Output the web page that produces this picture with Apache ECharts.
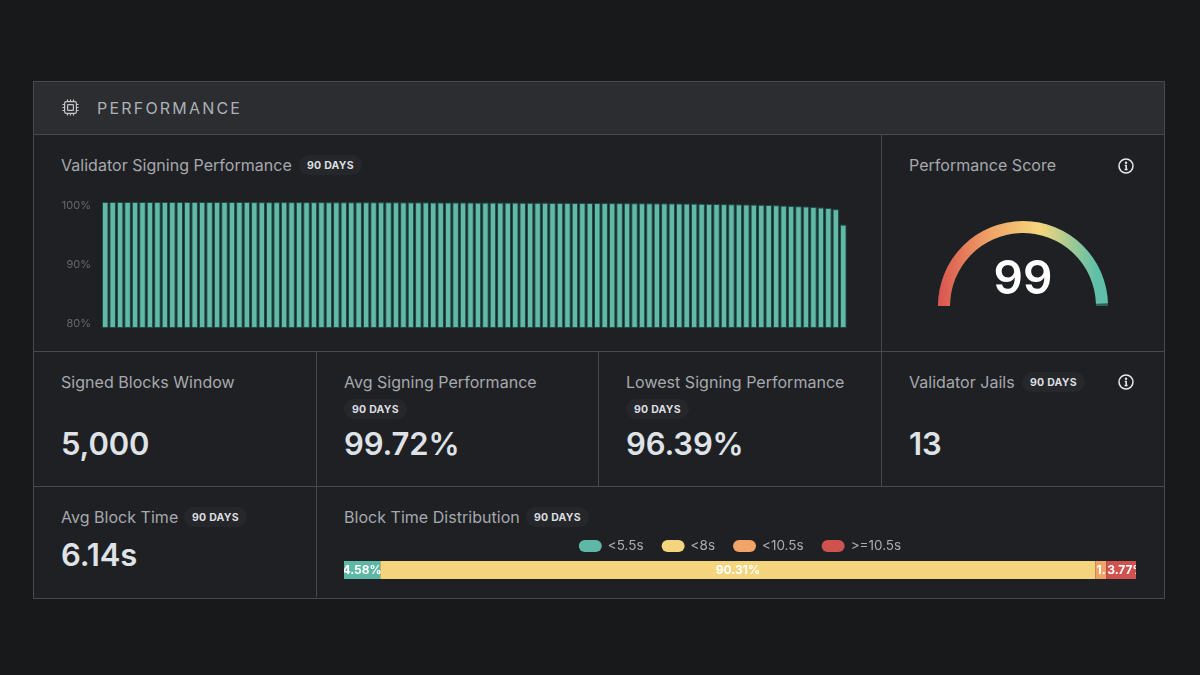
<!DOCTYPE html>
<html>
<head>
<meta charset="utf-8">
<script src="https://cdn.jsdelivr.net/npm/echarts@6/dist/echarts.min.js"></script>
<style>
html,body{margin:0;padding:0;background:#17191b;width:1200px;height:675px;overflow:hidden}
body{font-family:Inter,"Noto Sans",sans-serif;position:relative}
.abs{position:absolute}
#card{left:33px;top:81px;width:1130px;height:516px;background:#1f2024;border:1px solid #46494d}
#head{left:34px;top:82px;width:1130px;height:52px;background:#2b2d31}
.h{background:#46494d;height:1px}
.v{background:#46494d;width:1px}
.t{position:absolute;font-size:16px;line-height:20px;color:#a6a9ad;white-space:nowrap;letter-spacing:.03px}
.p{position:absolute;font-size:10.5px;font-weight:700;line-height:21px;height:20px;padding:0 8px;border-radius:10px;background:#25272b;color:#dcdee0;letter-spacing:.25px;white-space:nowrap}
.n{position:absolute;font-size:31px;line-height:40px;font-weight:600;color:#dfe3e8;white-space:nowrap;letter-spacing:-.15px}
#main{left:0;top:0;width:1200px;height:675px}
#dist{left:344px;top:532px;width:792px;height:48px;overflow:hidden}
svg{position:absolute}
</style>
</head>
<body>
<div class="abs" id="card"></div>
<div class="abs" id="head"></div>
<div class="abs h" style="left:34px;top:134px;width:1130px"></div>
<div class="abs h" style="left:34px;top:351px;width:1130px"></div>
<div class="abs h" style="left:34px;top:486px;width:1130px"></div>
<div class="abs v" style="left:881px;top:135px;height:351px"></div>
<div class="abs v" style="left:316px;top:352px;height:245px"></div>
<div class="abs v" style="left:598px;top:352px;height:134px"></div>

<svg style="left:62px;top:99px" width="17" height="17" viewBox="0 0 17 17" fill="none" stroke="#c3c6ca" stroke-width="1.2">
  <rect x="2.6" y="2.6" width="11.8" height="11.8" rx="1.6"/><rect x="5.6" y="5.6" width="5.8" height="5.8" rx=".6"/>
  <path d="M5.5 .5v2M8.5 .5v2M11.5 .5v2M5.5 14.5v2M8.5 14.5v2M11.5 14.5v2M.5 5.5h2M.5 8.5h2M.5 11.5h2M14.5 5.5h2M14.5 8.5h2M14.5 11.5h2"/>
</svg>
<div class="t" style="left:97px;top:98px;letter-spacing:2.2px;color:#adb1b5">PERFORMANCE</div>

<div class="t" style="left:61px;top:155px">Validator Signing Performance</div>
<div class="p" style="left:299px;top:155px">90 DAYS</div>
<div class="t" style="left:909px;top:155px">Performance Score</div>
<svg style="left:1118px;top:158px" width="16" height="16" viewBox="0 0 16 16" fill="none" stroke="#e8eaec" stroke-width="1.5"><circle cx="8" cy="8" r="7"/><path d="M6.8 7.4H8.2V11.6M6.6 11.6H9.6"/><circle cx="8" cy="4.8" r=".5" fill="#e8eaec"/></svg>

<div class="t" style="left:61px;top:372px">Signed Blocks Window</div>
<div class="n" style="left:61px;top:424px">5,000</div>

<div class="t" style="left:344px;top:372px">Avg Signing Performance</div>
<div class="p" style="left:344px;top:399px">90 DAYS</div>
<div class="n" style="left:344px;top:424px">99.72%</div>

<div class="t" style="left:626px;top:372px">Lowest Signing Performance</div>
<div class="p" style="left:626px;top:399px">90 DAYS</div>
<div class="n" style="left:626px;top:424px">96.39%</div>

<div class="t" style="left:909px;top:372px">Validator Jails</div>
<div class="p" style="left:1022px;top:372px">90 DAYS</div>
<svg style="left:1118px;top:374px" width="16" height="16" viewBox="0 0 16 16" fill="none" stroke="#e8eaec" stroke-width="1.5"><circle cx="8" cy="8" r="7"/><path d="M6.8 7.4H8.2V11.6M6.6 11.6H9.6"/><circle cx="8" cy="4.8" r=".5" fill="#e8eaec"/></svg>
<div class="n" style="left:909px;top:424px">13</div>

<div class="t" style="left:61px;top:507px">Avg Block Time</div>
<div class="p" style="left:184px;top:507px">90 DAYS</div>
<div class="n" style="left:61px;top:535px">6.14s</div>

<div class="t" style="left:344px;top:507px">Block Time Distribution</div>
<div class="p" style="left:526px;top:507px">90 DAYS</div>

<div class="abs" id="main"></div>
<div class="abs" id="dist"></div>

<script>
const days = [
 1,2,3,4,5,6,7,8,9,10,11,12,13,14,15,16,17,18,19,20,
 21,22,23,24,25,26,27,28,29,30,31,32,33,34,35,36,37,38,39,40,
 41,42,43,44,45,46,47,48,49,50,51,52,53,54,55,56,57,58,59,60,
 61,62,63,64,65,66,67,68,69,70,71,72,73,74,75,76,77,78,79,80,
 81,82,83,84,85,86,87,88,89,90,91,92,93,94,95,96,97,98,99,100
];
const signing = [
 100,100,100,100,100,100,100,100,100,100,100,100,100,100,100,100,100,100,100,100,
 99.98,99.98,99.98,99.98,99.98,99.98,99.98,99.98,99.98,99.98,99.96,99.96,99.96,99.96,99.96,99.96,99.96,99.96,99.96,99.96,
 99.94,99.94,99.94,99.94,99.92,99.92,99.92,99.92,99.92,99.92,99.9,99.9,99.9,99.9,99.9,99.9,99.88,99.88,99.88,99.88,
 99.86,99.86,99.86,99.85,99.85,99.84,99.84,99.83,99.82,99.82,99.81,99.8,99.8,99.79,99.78,99.78,99.77,99.76,99.75,99.74,
 99.72,99.7,99.68,99.66,99.64,99.62,99.6,99.58,99.55,99.52,99.48,99.42,99.38,99.32,99.28,99.22,99.12,99.05,98.85,96.39
];
const yTicks = [80, 90, 100];
const score = 99;
const buckets = ['<5.5s', '<8s', '<10.5s', '>=10.5s'];
const shares = [4.58, 90.31, 1.34, 3.77];
const shareColors = ['#5fb8a5', '#f4d47c', '#f0a468', '#d0524f'];

const main = echarts.init(document.getElementById('main'), null, {renderer: 'canvas'});
main.setOption({
  animation: false,
  backgroundColor: 'transparent',
  grid: {left: 101.5, top: 202, width: 745.5, height: 125.5},
  xAxis: {type: 'category', data: days, show: false},
  yAxis: {
    type: 'value', min: yTicks[0], max: yTicks[2], interval: 10,
    axisLine: {show: false}, axisTick: {show: false}, splitLine: {show: false},
    axisLabel: {
      color: '#65686c', fontSize: 11, fontFamily: 'Inter', margin: 10.5, lineHeight: 7,
      verticalAlignMinLabel: 'bottom', verticalAlignMaxLabel: 'top',
      formatter: '{value}%'
    }
  },
  series: [{
    type: 'bar', data: signing, barWidth: 6.5, silent: true,
    itemStyle: {color: '#62b9a6', borderColor: '#1f4c48', borderWidth: 1}
  }, {
    type: 'gauge', center: [1023, 306], radius: 85, startAngle: 180, endAngle: 0,
    min: 0, max: 100, silent: true,
    axisLine: {roundCap: false, lineStyle: {width: 12, color: [[1, '#2f5f58']]}},
    progress: {show: true, width: 12, roundCap: false, itemStyle: {
      color: new echarts.graphic.LinearGradient(0, 0, 1, 0, [
        {offset: 0, color: '#d9534f'},
        {offset: .3, color: '#f0a266'},
        {offset: .6, color: '#f6d67c'},
        {offset: .93, color: '#5fbfa8'},
        {offset: 1, color: '#5fbfa8'}
      ])
    }},
    pointer: {show: false}, anchor: {show: false},
    axisTick: {show: false}, splitLine: {show: false}, axisLabel: {show: false},
    title: {show: false},
    detail: {
      valueAnimation: false, offsetCenter: [0, -25.5], formatter: '{value}',
      color: '#ffffff', fontSize: 46, fontWeight: 600, fontFamily: 'Inter'
    },
    data: [{value: score}]
  }]
});

const labelFor = [
  {position: 'inside'},
  {position: 'inside'},
  {position: 'insideLeft', distance: 1, width: 15, overflow: 'truncate', ellipsis: ''},
  {position: 'insideLeft', distance: 1}
];
const dist = echarts.init(document.getElementById('dist'), null, {renderer: 'canvas'});
dist.setOption({
  animation: false,
  backgroundColor: 'transparent',
  legend: {
    data: buckets, top: 2, left: 'center', itemWidth: 23, itemHeight: 12, itemGap: 18, selectedMode: false,
    icon: 'path://M6,0H17A6,6 0 0 1 17,12H6A6,6 0 0 1 6,0Z',
    textStyle: {color: '#a9acb0', fontSize: 13.5, fontFamily: 'Inter', padding: [0, 0, 0, 1]}
  },
  grid: {left: 0, right: 0, top: 29, bottom: 1},
  xAxis: {type: 'value', min: 0, max: 100, show: false},
  yAxis: {type: 'category', data: ['share'], show: false},
  series: buckets.map((name, i) => ({
    name, type: 'bar', stack: 'all', data: [shares[i]], barWidth: '100%', silent: true,
    itemStyle: {color: shareColors[i]},
    label: Object.assign({
      show: true, color: '#ffffff', fontSize: 12, fontWeight: 700, fontFamily: 'Inter',
      formatter: p => p.value.toFixed(2) + '%'
    }, labelFor[i])
  }))
});
</script>
</body>
</html>
